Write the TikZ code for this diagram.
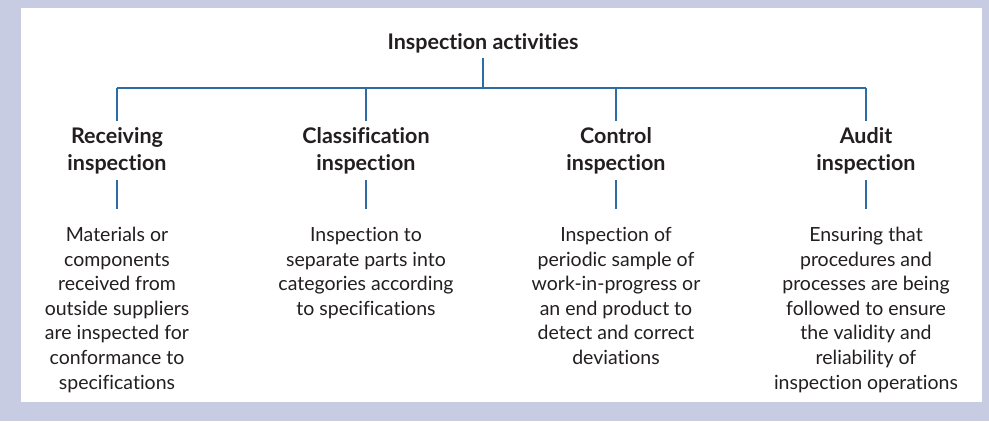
\documentclass[tikz,border=0pt]{standalone}
\usepackage{fontspec}
\setmainfont{Lato}[Ligatures=NoCommon]
\definecolor{frame}{HTML}{C8CCE2}
\definecolor{ink}{HTML}{231F20}
\definecolor{wire}{HTML}{2E6DA4}
\begin{document}
\begin{tikzpicture}[x=1pt,y=-1pt,
  link/.style={draw=wire,line width=1.4pt},
  headbox/.style={align=center,text=ink,font=\fontsize{21.5}{27}\selectfont\bfseries,inner xsep=0pt,inner ysep=6.5pt},
  descbox/.style={align=center,text=ink,font=\fontsize{19.5}{24.6}\selectfont,anchor=north,inner xsep=0pt,inner ysep=18pt}]
  % frame and panel
  \fill[frame] (0,0) rectangle (989,421);
  \fill[white] (21,8) rectangle (982,402);
  \useasboundingbox (0,0) rectangle (989,421);

  % root
  \node[headbox,inner ysep=5pt] (title) at (483,43) {Inspection activities};

  % branches
  \node[headbox] (r) at (117,150.5) {Receiving\\inspection};
  \node[headbox] (c) at (366,150.5) {Classification\\inspection};
  \node[headbox] (k) at (616,150.5) {Control\\inspection};
  \node[headbox] (a) at (866,150.5) {Audit\\inspection};

  % descriptions
  \node[descbox] (rd) at (117,209) {Materials or\\components\\received from\\outside suppliers\\are inspected for\\conformance to\\specifications};
  \node[descbox] (cd) at (366,209) {Inspection to\\separate parts into\\categories according\\to specifications};
  \node[descbox] (kd) at (616,209) {Inspection of\\periodic sample of\\work-in-progress or\\an end product to\\detect and correct\\deviations};
  \node[descbox] (ad) at (866,209) {Ensuring that\\procedures and\\processes are being\\followed to ensure\\the validity and\\reliability of\\inspection operations};

  % connectors
  \coordinate (busL) at (117,88);
  \coordinate (busR) at (866,88);
  \draw[link] (title.south) -- (title.south |- busL);
  \draw[link] (busL) -- (busR);
  \foreach \n in {r,c,k,a} {
    \draw[link] (\n.north) -- (\n.north |- busL);
    \draw[link] (\n.south) -- (\n d.north);
  }
\end{tikzpicture}
\end{document}
